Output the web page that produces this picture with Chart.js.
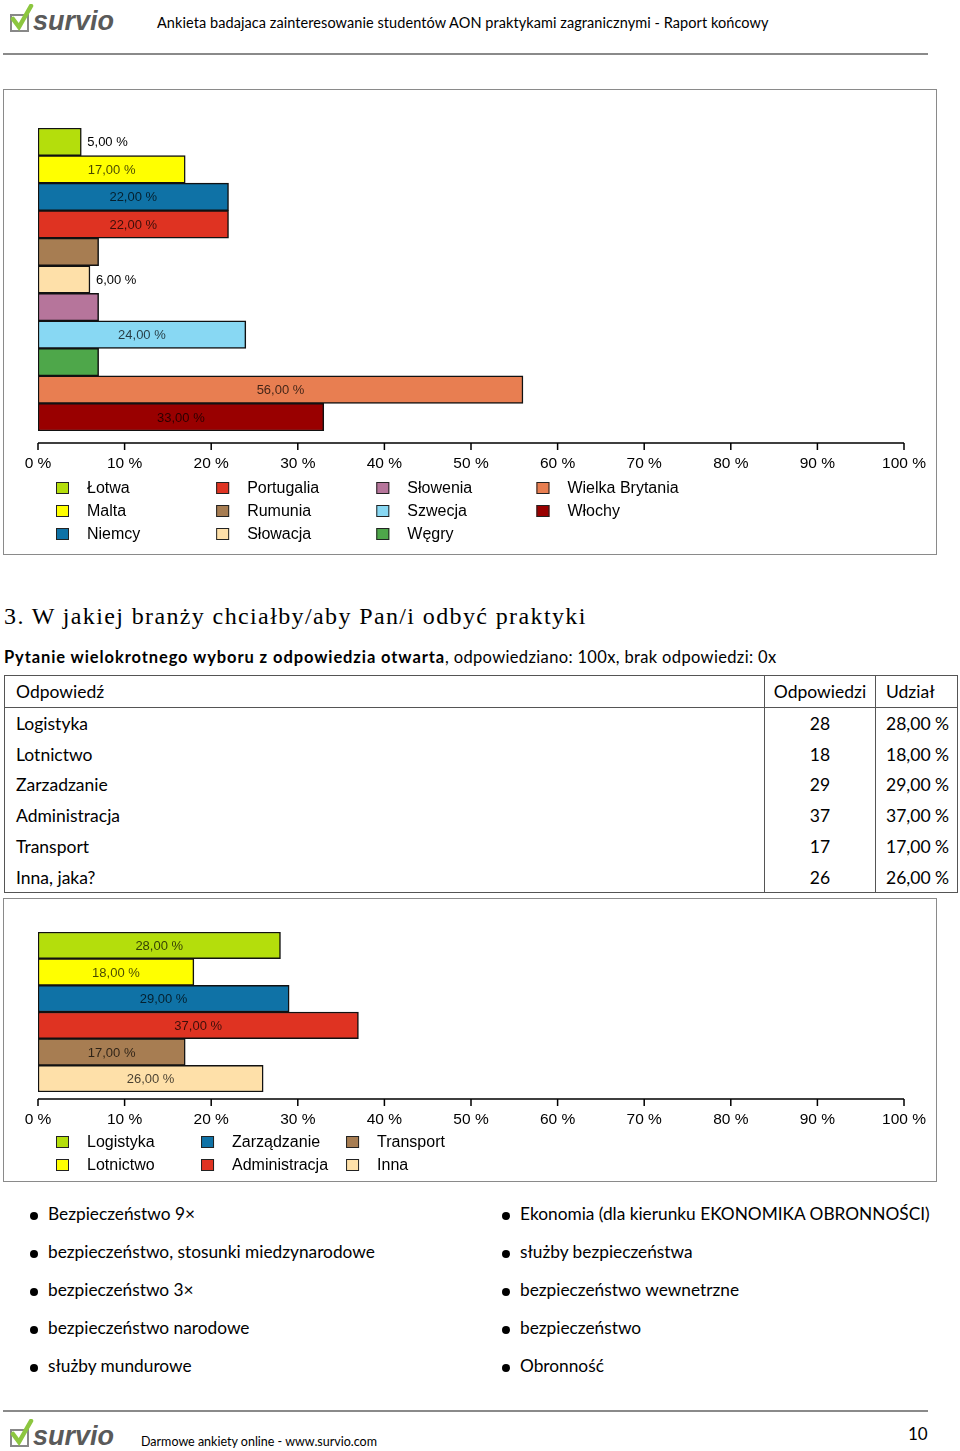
<!DOCTYPE html>
<html lang="pl">
<head>
<meta charset="utf-8">
<script src="https://cdn.jsdelivr.net/npm/chart.js@4.4.0/dist/chart.umd.min.js"></script>
<style>
  body { margin: 0; width: 960px; height: 1451px; overflow: hidden; background: #fff; font-family: Lato, sans-serif; color: #000; position: relative; }
  .abs { position: absolute; white-space: nowrap; }
  .rule { position: absolute; left: 3px; width: 925px; height: 0; border-top: 2px solid #8a8a8a; }
  .box { position: absolute; left: 3px; width: 932px; border: 1.5px solid #8a8a8a; }
  .box canvas { display: block; }
  .logo { position: absolute; left: 10px; }
  table { position: absolute; left: 4px; top: 675px; width: 954px; border-collapse: collapse; font-size: 17.5px; }
  td { height: 28.7px; padding: 2px 0 0 0; line-height: 28.7px; }
  td.c1 { padding-left: 11px; }
  td.c2 { width: 110px; text-align: center; border-left: 1px solid #555; }
  td.c3 { width: 82px; padding-left: 10px; border-left: 1px solid #555; box-sizing: border-box; }
  tr.head td { border-bottom: 1px solid #555; height: 29px; }
  .bul { position: absolute; font-size: 17.3px; white-space: nowrap; }
  .bul::before { content: ''; position: absolute; left: -18px; top: 9px; width: 8px; height: 8px; border-radius: 50%; background: #000; }
</style>
</head>
<body>

<svg class="logo" style="top:4px" width="110" height="30" viewBox="0 0 110 30">
  <rect x="1" y="11" width="17" height="16" fill="none" stroke="#888" stroke-width="2"/>
  <path d="M3 15 L9 23 L21 2" fill="none" stroke="#8cc63f" stroke-width="4.5" stroke-linecap="round"/>
  <text x="23" y="26" font-family="Liberation Sans" font-style="italic" font-weight="bold" font-size="27" fill="#5a5a5a">survio</text>
</svg>
<div class="abs" style="left:157px;top:14px;font-size:14.5px;letter-spacing:0.07px">Ankieta badajaca zainteresowanie studentów AON praktykami zagranicznymi - Raport końcowy</div>
<div class="rule" style="top:53px"></div>

<div class="box" style="top:89px;height:464px"><canvas id="chart1"></canvas></div>

<div class="abs" style="left:4px;top:603px;font-family:'Liberation Serif',serif;font-size:24px;letter-spacing:1.38px">3. W jakiej branży chciałby/aby Pan/i odbyć praktyki</div>
<div class="abs" style="left:4px;top:647px;font-size:16.5px"><b style="letter-spacing:0.9px">Pytanie wielokrotnego wyboru z odpowiedzia otwarta</b><span style="letter-spacing:0.35px">, odpowiedziano: 100x, brak odpowiedzi: 0x</span></div>

<table id="tbl" style="border:1px solid #555"></table>

<div class="box" style="top:898px;height:282px"><canvas id="chart2"></canvas></div>

<div id="list"></div>

<div class="rule" style="top:1410px"></div>
<svg class="logo" style="top:1419px" width="110" height="30" viewBox="0 0 110 30">
  <rect x="1" y="11" width="17" height="16" fill="none" stroke="#888" stroke-width="2"/>
  <path d="M3 15 L9 23 L21 2" fill="none" stroke="#8cc63f" stroke-width="4.5" stroke-linecap="round"/>
  <text x="23" y="26" font-family="Liberation Sans" font-style="italic" font-weight="bold" font-size="27" fill="#5a5a5a">survio</text>
</svg>
<div class="abs" style="left:141px;top:1434px;font-size:12.5px">Darmowe ankiety online - www.survio.com</div>
<div class="abs" style="left:908px;top:1423px;font-size:17px">10</div>

<script>
// pytanie 2 - kraje
const countries = ['Łotwa', 'Malta', 'Niemcy', 'Portugalia', 'Rumunia', 'Słowacja', 'Słowenia', 'Szwecja', 'Węgry', 'Wielka Brytania', 'Włochy'];
const countryShare = [5, 17, 22, 22, 7, 6, 7, 24, 7, 56, 33];
const countryLabels = ['5,00 %', '17,00 %', '22,00 %', '22,00 %', null, '6,00 %', null, '24,00 %', null, '56,00 %', '33,00 %'];
const countryColors = ['#b4de0c', '#ffff00', '#0f72a6', '#df3322', '#a77d52', '#fee0a9', '#b6759b', '#88d8f3', '#4ea74a', '#e87e51', '#990000'];

// pytanie 3 - branze
const branches = ['Logistyka', 'Lotnictwo', 'Zarządzanie', 'Administracja', 'Transport', 'Inna'];
const branchRows = ['Logistyka', 'Lotnictwo', 'Zarzadzanie', 'Administracja', 'Transport', 'Inna, jaka?'];
const branchCount = [28, 18, 29, 37, 17, 26];
const branchShare = [28, 18, 29, 37, 17, 26];
const branchLabels = ['28,00 %', '18,00 %', '29,00 %', '37,00 %', '17,00 %', '26,00 %'];
const branchColors = ['#b4de0c', '#ffff00', '#0f72a6', '#df3322', '#a77d52', '#fee0a9'];

const otherAnswers = [
  'Bezpieczeństwo 9×', 'bezpieczeństwo, stosunki miedzynarodowe', 'bezpieczeństwo 3×',
  'bezpieczeństwo narodowe', 'służby mundurowe',
  'Ekonomia (dla kierunku EKONOMIKA OBRONNOŚCI)', 'służby bezpieczeństwa',
  'bezpieczeństwo wewnetrzne', 'bezpieczeństwo', 'Obronność'
];

const tickValues = [0, 10, 20, 30, 40, 50, 60, 70, 80, 90, 100];
const tickLabels = ['0 %', '10 %', '20 %', '30 %', '40 %', '50 %', '60 %', '70 %', '80 %', '90 %', '100 %'];

// tabela
const tbl = document.getElementById('tbl');
let html = '<tr class="head"><td class="c1">Odpowiedź</td><td class="c2">Odpowiedzi</td><td class="c3">Udział</td></tr>';
branchRows.forEach((r, i) => {
  html += '<tr><td class="c1">' + r + '</td><td class="c2">' + branchCount[i] + '</td><td class="c3">' + branchLabels[i] + '</td></tr>';
});
tbl.innerHTML = html;

// lista odpowiedzi "inna"
const list = document.getElementById('list');
otherAnswers.forEach((t, i) => {
  const d = document.createElement('div');
  d.className = 'bul';
  d.textContent = t;
  d.style.left = (i < 5 ? 48 : 520) + 'px';
  d.style.top = (1203 + (i % 5) * 38) + 'px';
  list.appendChild(d);
});

const FONT = '"Liberation Sans", Arial, sans-serif';

// etykiety na slupkach
const barText = {
  id: 'barText',
  afterDatasetsDraw(chart, args, opts) {
    const ctx = chart.ctx;
    const meta = chart.getDatasetMeta(0);
    ctx.save();
    ctx.font = '13px ' + FONT;
    ctx.textBaseline = 'middle';
    meta.data.forEach((bar, i) => {
      const txt = opts.labels[i];
      if (!txt) return;
      const w = ctx.measureText(txt).width;
      if (w + 20 < bar.x - bar.base) {
        ctx.fillStyle = 'rgba(0,0,0,0.72)';
        ctx.textAlign = 'center';
        ctx.fillText(txt, (bar.x + bar.base) / 2, bar.y + 1);
      } else {
        ctx.fillStyle = '#000';
        ctx.textAlign = 'left';
        ctx.fillText(txt, bar.x + 6, bar.y + 1);
      }
    });
    ctx.restore();
  }
};

// os X odsunieta od slupkow + legenda w kolumnach
const axisLegend = {
  id: 'axisLegend',
  afterDraw(chart, args, opts) {
    const ctx = chart.ctx;
    const xs = chart.scales.x;
    const area = chart.chartArea;
    const yAxis = area.bottom + opts.gap;
    ctx.save();
    ctx.strokeStyle = '#000';
    ctx.lineWidth = 1.5;
    ctx.beginPath();
    ctx.moveTo(xs.getPixelForValue(0), yAxis);
    ctx.lineTo(xs.getPixelForValue(100), yAxis);
    tickValues.forEach(v => {
      const px = xs.getPixelForValue(v);
      ctx.moveTo(px, yAxis);
      ctx.lineTo(px, yAxis + 7);
    });
    ctx.stroke();

    ctx.fillStyle = '#000';
    ctx.font = '15.5px ' + FONT;
    ctx.textAlign = 'center';
    ctx.textBaseline = 'middle';
    tickValues.forEach((v, i) => ctx.fillText(tickLabels[i], xs.getPixelForValue(v), yAxis + 21));

    const labels = chart.data.labels;
    const colors = chart.data.datasets[0].backgroundColor;
    ctx.font = '16px ' + FONT;
    ctx.textAlign = 'left';
    const colW = Math.max(...labels.map(l => ctx.measureText(l).width)) + 49;
    ctx.lineWidth = 1;
    labels.forEach((l, i) => {
      const col = Math.floor(i / opts.rows);
      const row = i % opts.rows;
      const bx = area.left + 18 + col * colW;
      const by = yAxis + opts.legendTop + row * 23;
      ctx.fillStyle = colors[i];
      ctx.fillRect(bx, by - 6, 13, 12);
      ctx.strokeStyle = '#222';
      ctx.strokeRect(bx + 0.5, by - 5.5, 12, 11);
      ctx.fillStyle = '#000';
      ctx.fillText(l, bx + 31, by + 1);
    });
    ctx.restore();
  }
};

function makeChart(id, w, h, labels, values, colors, barLabels, pad, gap, legendTop, rows) {
  const canvas = document.getElementById(id);
  canvas.style.width = w + 'px';
  canvas.style.height = h + 'px';
  return new Chart(canvas, {
    type: 'bar',
    data: {
      labels: labels,
      datasets: [{
        data: values,
        backgroundColor: colors,
        borderColor: '#111',
        borderWidth: 1.5,
        borderSkipped: false,
        categoryPercentage: 1,
        barPercentage: 1
      }]
    },
    options: {
      indexAxis: 'y',
      responsive: false,
      animation: false,
      layout: { padding: pad },
      plugins: {
        legend: { display: false },
        tooltip: { enabled: false },
        barText: { labels: barLabels },
        axisLegend: { gap: gap, legendTop: legendTop, rows: rows }
      },
      scales: {
        x: { display: false, min: 0, max: 100 },
        y: { display: false }
      }
    },
    plugins: [barText, axisLegend]
  });
}

makeChart('chart1', 932, 464, countries, countryShare, countryColors, countryLabels,
  { left: 34, right: 32, top: 38, bottom: 123 }, 12, 45, 3);
makeChart('chart2', 932, 282, branches, branchShare, branchColors, branchLabels,
  { left: 34, right: 32, top: 33, bottom: 89 }, 7, 43, 2);
</script>
</body>
</html>
